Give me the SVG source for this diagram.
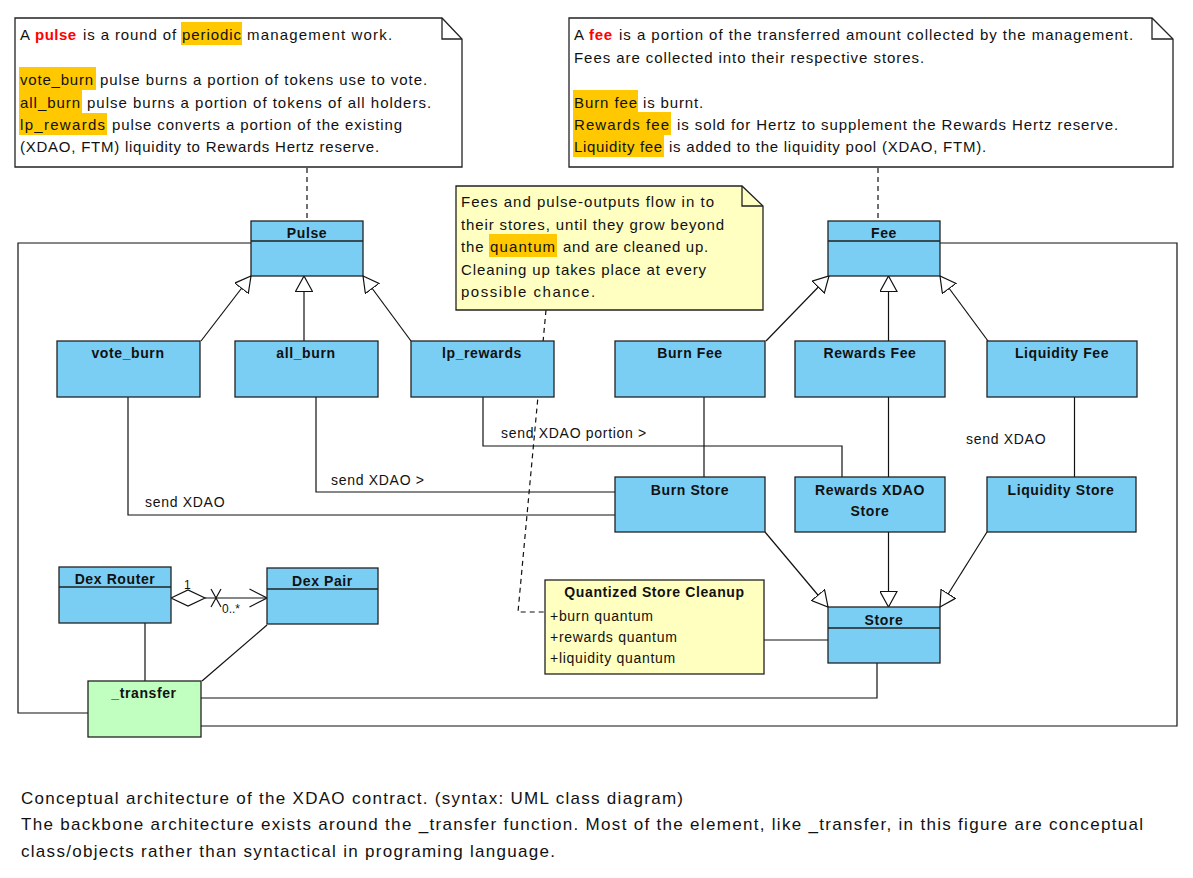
<svg xmlns="http://www.w3.org/2000/svg" width="1193" height="878" viewBox="0 0 1193 878">
<style>
text{font-family:"Liberation Sans",Arial,sans-serif;fill:#111}
.nt{font-size:15px;letter-spacing:0.9px}
.red{fill:#f00;font-weight:bold}
.hl{fill:#ffc800}
.ttl{font-size:14px;font-weight:bold;letter-spacing:0.6px;text-anchor:middle}
.lbl{font-size:14px;letter-spacing:0.7px}
.attr{font-size:14px;letter-spacing:0.7px}
.sm{font-size:12px}
.cap{font-size:17px}
.note{fill:#fff;stroke:#222;stroke-width:1.3}
.ynote{fill:#ffffc2;stroke:#222;stroke-width:1.3}
.cls{fill:#7acef4;stroke:#222;stroke-width:1.3}
.grn{fill:#c0ffc0;stroke:#222;stroke-width:1.3}
.ycls{fill:#ffffc0;stroke:#222;stroke-width:1.3}
.sep{stroke:#222;stroke-width:1.3;fill:none}
.c{fill:none;stroke:#111;stroke-width:1.2}
.d{fill:none;stroke:#111;stroke-width:1.2;stroke-dasharray:5,4}
.gen{marker-end:url(#tri)}
</style>
<defs>
<marker id="tri" viewBox="0 0 17 18" refX="16" refY="9" markerWidth="17" markerHeight="18" markerUnits="userSpaceOnUse" orient="auto">
<path d="M0.5,0.5 L16,9 L0.5,17.5 Z" fill="#fff" stroke="#111" stroke-width="1.2"/>
</marker>
<marker id="open" viewBox="0 0 19 20" refX="18" refY="10" markerWidth="19" markerHeight="20" markerUnits="userSpaceOnUse" orient="auto">
<path d="M0.5,1 L18,10 L0.5,19" fill="none" stroke="#111" stroke-width="1.2"/>
</marker>
</defs>

<g id="connectors">
<path class="d" d="M307,168 V221"/>
<path class="d" d="M878,168 V221"/>
<path class="d" d="M546,310 L518,612 H545"/>
<path class="c gen" d="M201,341 L251,276"/>
<path class="c gen" d="M304,341 V276"/>
<path class="c gen" d="M411,341 L363,276"/>
<path class="c gen" d="M766,341 L829,276"/>
<path class="c gen" d="M888.5,341 V276"/>
<path class="c gen" d="M988,341 L940,276"/>
<path class="c gen" d="M765,532 L828,607"/>
<path class="c gen" d="M888.5,532 V607"/>
<path class="c gen" d="M987,532 L940,607"/>
<path class="c" d="M704,397 V477"/>
<path class="c" d="M888.5,397 V477"/>
<path class="c" d="M1074.5,397 V477"/>
<path class="c" d="M128,397 V515 H615"/>
<path class="c" d="M316,397 V492 H615"/>
<path class="c" d="M483,397 V446 H842 V477"/>
<path class="c" d="M764,640 H828"/>
<path class="c" d="M877,663 V698 H201"/>
<path class="c" d="M940,243 H1177 V726 H201"/>
<path class="c" d="M251,243 H18 V713 H88"/>
<path class="c" d="M145,623 V681"/>
<path class="c" d="M267,625 L202,681"/>
<path class="c" d="M205,598 H267" marker-end="url(#open)"/>
<polygon points="171,598 188,590 205,598 188,606" fill="#fff" stroke="#111" stroke-width="1.2"/>
<path class="c" d="M211,589 L221,607 M221,589 L211,607"/>
<text class="sm" x="184" y="589">1</text>
<text class="sm" x="222" y="613">0..*</text>
<text class="lbl" x="145" y="507">send XDAO</text>
<text class="lbl" x="331" y="485">send XDAO &gt;</text>
<text class="lbl" x="501" y="438">send XDAO portion &gt;</text>
<text class="lbl" x="966" y="444">send XDAO</text>
</g>

<g id="note-pulse">
<path class="note" d="M15,18 H442 L462,39 V167 H15 Z"/>
<path class="sep" d="M442,18 V39 H462"/>
<rect class="hl" x="181" y="22" width="61" height="23"/>
<rect class="hl" x="19" y="67" width="77" height="23"/>
<rect class="hl" x="19" y="90" width="63" height="23"/>
<rect class="hl" x="19" y="113" width="88" height="22"/>
<text class="nt" x="20" y="40">A</text>
<text class="nt red" x="35" y="40" textLength="42" lengthAdjust="spacing">pulse</text>
<text class="nt" x="83" y="40" textLength="94" lengthAdjust="spacing">is a round of</text>
<text class="nt" x="182" y="40" textLength="60" lengthAdjust="spacing">periodic</text>
<text class="nt" x="247" y="40" textLength="146" lengthAdjust="spacing">management work.</text>
<text class="nt" x="20" y="85" textLength="74" lengthAdjust="spacing">vote_burn</text>
<text class="nt" x="100" y="85" textLength="328" lengthAdjust="spacing">pulse burns a portion of tokens use to vote.</text>
<text class="nt" x="20" y="108" textLength="61" lengthAdjust="spacing">all_burn</text>
<text class="nt" x="87" y="108" textLength="345" lengthAdjust="spacing">pulse burns a portion of tokens of all holders.</text>
<text class="nt" x="20" y="130" textLength="86" lengthAdjust="spacing">lp_rewards</text>
<text class="nt" x="112" y="130" textLength="291" lengthAdjust="spacing">pulse converts a portion of the existing</text>
<text class="nt" x="20" y="152" textLength="360" lengthAdjust="spacing">(XDAO, FTM) liquidity to Rewards Hertz reserve.</text>
</g>

<g id="note-fee">
<path class="note" d="M569,18 H1152 L1173,39 V167 H569 Z"/>
<path class="sep" d="M1152,18 V39 H1173"/>
<rect class="hl" x="573" y="90" width="65" height="22"/>
<rect class="hl" x="573" y="112" width="98" height="23"/>
<rect class="hl" x="573" y="135" width="91" height="22"/>
<text class="nt" x="574" y="40">A</text>
<text class="nt red" x="589" y="40" textLength="24" lengthAdjust="spacing">fee</text>
<text class="nt" x="619" y="40" textLength="515" lengthAdjust="spacing">is a portion of the transferred amount collected by the management.</text>
<text class="nt" x="574" y="63" textLength="351" lengthAdjust="spacing">Fees are collected into their respective stores.</text>
<text class="nt" x="574" y="108" textLength="64" lengthAdjust="spacing">Burn fee</text>
<text class="nt" x="643" y="108" textLength="61" lengthAdjust="spacing">is burnt.</text>
<text class="nt" x="574" y="130" textLength="96" lengthAdjust="spacing">Rewards fee</text>
<text class="nt" x="677" y="130" textLength="442" lengthAdjust="spacing">is sold for Hertz to supplement the Rewards Hertz reserve.</text>
<text class="nt" x="574" y="152" textLength="89" lengthAdjust="spacing">Liquidity fee</text>
<text class="nt" x="669" y="152" textLength="318" lengthAdjust="spacing">is added to the liquidity pool (XDAO, FTM).</text>
</g>

<g id="note-quantum">
<path class="ynote" d="M456,186 H742 L763,206 V310 H456 Z"/>
<path class="sep" d="M742,186 V206 H763"/>
<rect class="hl" x="489" y="234" width="68" height="23"/>
<text class="nt" x="461" y="207" textLength="254" lengthAdjust="spacing">Fees and pulse-outputs flow in to</text>
<text class="nt" x="461" y="229.5" textLength="264" lengthAdjust="spacing">their stores, until they grow beyond</text>
<text class="nt" x="461" y="252">the</text>
<text class="nt" x="490" y="252" textLength="66" lengthAdjust="spacing">quantum</text>
<text class="nt" x="563" y="252" textLength="146" lengthAdjust="spacing">and are cleaned up.</text>
<text class="nt" x="461" y="274.5" textLength="246" lengthAdjust="spacing">Cleaning up takes place at every</text>
<text class="nt" x="461" y="297" textLength="135" lengthAdjust="spacing">possible chance.</text>
</g>

<g id="pulse">
<rect class="cls" x="251" y="221" width="112" height="55"/>
<path class="sep" d="M251,241 H363"/>
<text class="ttl" x="307" y="238">Pulse</text>
</g>
<g id="fee">
<rect class="cls" x="828" y="221" width="112" height="55"/>
<path class="sep" d="M828,241 H940"/>
<text class="ttl" x="884" y="238">Fee</text>
</g>
<g id="vote_burn">
<rect class="cls" x="57" y="341" width="143" height="56"/>
<text class="ttl" x="128" y="358">vote_burn</text>
</g>
<g id="all_burn">
<rect class="cls" x="235" y="341" width="143" height="56"/>
<text class="ttl" x="306" y="358">all_burn</text>
</g>
<g id="lp_rewards">
<rect class="cls" x="411" y="341" width="143" height="56"/>
<text class="ttl" x="482" y="358">lp_rewards</text>
</g>
<g id="burn-fee">
<rect class="cls" x="615" y="341" width="150" height="56"/>
<text class="ttl" x="690" y="358">Burn Fee</text>
</g>
<g id="rewards-fee">
<rect class="cls" x="795" y="341" width="150" height="56"/>
<text class="ttl" x="870" y="358">Rewards Fee</text>
</g>
<g id="liquidity-fee">
<rect class="cls" x="987" y="341" width="150" height="56"/>
<text class="ttl" x="1062" y="358">Liquidity Fee</text>
</g>
<g id="burn-store">
<rect class="cls" x="615" y="477" width="150" height="55"/>
<text class="ttl" x="690" y="495">Burn Store</text>
</g>
<g id="rewards-xdao-store">
<rect class="cls" x="795" y="477" width="150" height="55"/>
<text class="ttl" x="870" y="495">Rewards XDAO</text>
<text class="ttl" x="870" y="516">Store</text>
</g>
<g id="liquidity-store">
<rect class="cls" x="987" y="477" width="149" height="55"/>
<text class="ttl" x="1061" y="495">Liquidity Store</text>
</g>
<g id="store">
<rect class="cls" x="828" y="607" width="112" height="56"/>
<path class="sep" d="M828,628 H940"/>
<text class="ttl" x="884" y="625">Store</text>
</g>
<g id="quantized-store-cleanup">
<rect class="ycls" x="545" y="580" width="219" height="94"/>
<text class="ttl" x="654.5" y="597">Quantized Store Cleanup</text>
<text class="attr" x="550" y="621">+burn quantum</text>
<text class="attr" x="550" y="642">+rewards quantum</text>
<text class="attr" x="550" y="663">+liquidity quantum</text>
</g>
<g id="dex-router">
<rect class="cls" x="59" y="567" width="112" height="56"/>
<path class="sep" d="M59,587 H171"/>
<text class="ttl" x="115" y="584">Dex Router</text>
</g>
<g id="dex-pair">
<rect class="cls" x="267" y="568" width="111" height="56"/>
<path class="sep" d="M267,589 H378"/>
<text class="ttl" x="322.5" y="586">Dex Pair</text>
</g>
<g id="transfer">
<rect class="grn" x="88" y="681" width="113" height="56"/>
<text class="ttl" x="144" y="698">_transfer</text>
</g>

<g id="caption">
<text class="cap" x="21" y="804" textLength="662" lengthAdjust="spacing">Conceptual architecture of the XDAO contract. (syntax: UML class diagram)</text>
<text class="cap" x="21" y="830" textLength="1122" lengthAdjust="spacing">The backbone architecture exists around the _transfer function. Most of the element, like _transfer, in this figure are conceptual</text>
<text class="cap" x="21" y="857" textLength="534" lengthAdjust="spacing">class/objects rather than syntactical in programing language.</text>
</g>
</svg>
